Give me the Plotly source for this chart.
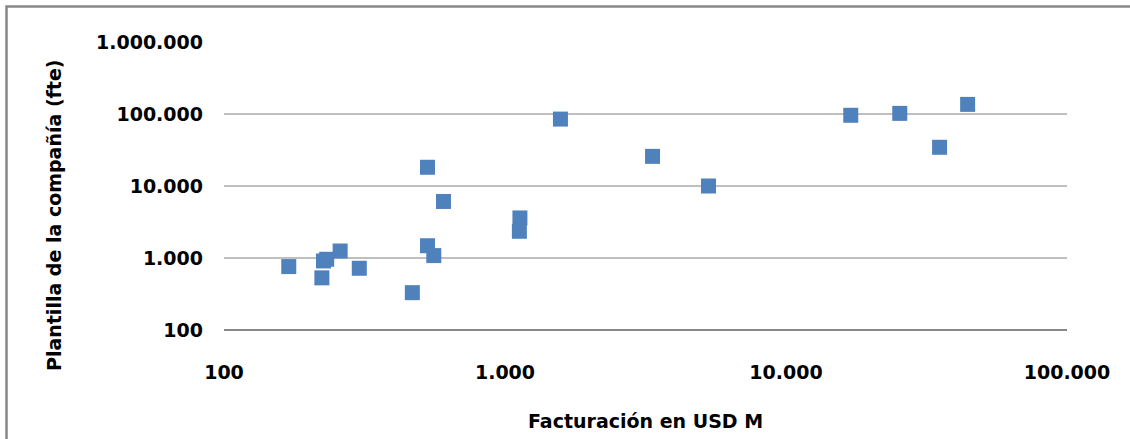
import plotly.graph_objects as go

# Facturación (USD M) y plantilla (fte) por compañía
facturacion_usd_m = [170, 223, 232, 226, 259, 303, 468, 530, 530, 558, 604,
                     1130, 1125, 1575, 3350, 5300, 17000, 25400, 35200, 44300]
plantilla_fte = [760, 530, 960, 910, 1250, 720, 330, 18200, 1480, 1080, 6100,
                 3600, 2350, 85000, 25800, 10000, 96000, 102000, 34500, 136000]

x_tick_vals = [100, 1000, 10000, 100000]
x_tick_text = ["100", "1.000", "10.000", "100.000"]
y_tick_vals = [100, 1000, 10000, 100000, 1000000]
y_tick_text = ["100", "1.000", "10.000", "100.000", "1.000.000"]

x_title = "Facturación en USD M"
y_title = "Plantilla de la compañía (fte)"

W, H = 1130, 439
L, R, T, B = 224, 63, 42, 109
pw, ph = W - L - R, H - T - B


def px_x(p):
    return (p - L) / pw


def px_y(p):
    return (H - B - p) / ph


tick_font = dict(family="DejaVu Sans", size=19, color="#000000", weight="bold")
title_font = dict(family="DejaVu Sans", size=19, color="#000000", weight="bold")

fig = go.Figure()
fig.add_trace(go.Scatter(
    x=facturacion_usd_m,
    y=plantilla_fte,
    mode="markers",
    marker=dict(symbol="square", size=15, color="#4F81BD", line=dict(width=0)),
    showlegend=False,
))

fig.update_layout(
    width=W,
    height=H,
    margin=dict(l=L, r=R, t=T, b=B),
    paper_bgcolor="#FFFFFF",
    plot_bgcolor="#FFFFFF",
    separators=",.",
    xaxis=dict(
        type="log",
        range=[2, 5],
        tickvals=x_tick_vals,
        ticktext=x_tick_text,
        tickfont=tick_font,
        showgrid=False,
        zeroline=False,
        showline=False,
        ticks="",
        ticklabelstandoff=29,
    ),
    yaxis=dict(
        type="log",
        range=[2, 6],
        tickvals=y_tick_vals,
        ticktext=y_tick_text,
        tickfont=tick_font,
        showgrid=True,
        gridcolor="#BFBFBF",
        gridwidth=2,
        zeroline=False,
        showline=False,
        ticks="",
        ticklabelstandoff=20,
    ),
    annotations=[
        dict(text=x_title, xref="paper", yref="paper",
             x=0.5, y=px_y(421), xanchor="center", yanchor="middle",
             showarrow=False, font=title_font),
        dict(text=y_title, xref="paper", yref="paper",
             x=px_x(54), y=px_y(215), xanchor="center", yanchor="middle",
             textangle=-90, showarrow=False, font=title_font),
    ],
    shapes=[
        # eje horizontal inferior
        dict(type="line", xref="paper", yref="paper",
             x0=0, x1=1, y0=0, y1=0,
             line=dict(color="#878787", width=2), layer="below"),
        # marco exterior del gráfico
        dict(type="rect", xref="paper", yref="paper",
             x0=px_x(6.5), x1=px_x(W + 20), y0=px_y(H + 20), y1=px_y(6.5),
             line=dict(color="#888888", width=2.5), fillcolor="rgba(0,0,0,0)"),
    ],
)

fig.write_html("out.html")
